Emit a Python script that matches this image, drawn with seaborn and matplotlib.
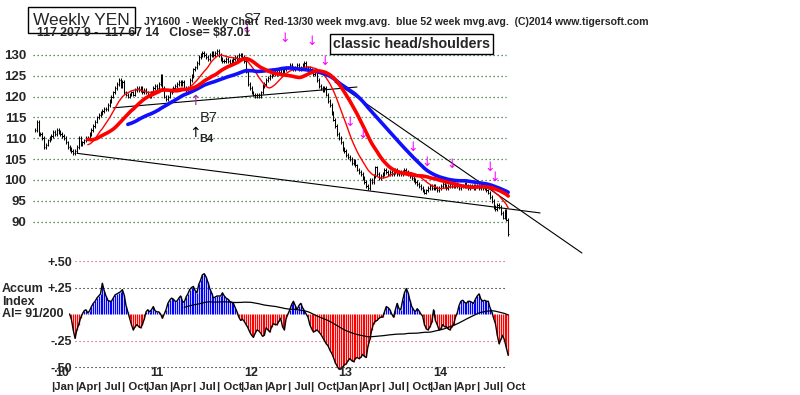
import numpy as np
import pandas as pd
import matplotlib
matplotlib.use("Agg")
import matplotlib.pyplot as plt
import seaborn as sns

# ---------------- data ----------------
# weekly closes (yen futures, JY), week 0 = late Nov 2009 ... week 260 = early Nov 2014
close = [
    112, 114, 111, 111, 110, 108, 108.5, 109.5, 110, 110.5,
    111.5, 111, 112, 111.5, 111, 110.5, 110, 109, 108, 107.5,
    107, 106.5, 107, 108, 110, 108.5, 109, 109.5, 110, 110,
    111, 112, 113, 114, 115, 115.5, 116, 116.5, 117, 117,
    118, 119, 120, 121, 122, 123, 124, 122.5, 123.5, 121,
    120.5, 120, 120.5, 121, 120.5, 121.5, 122, 121.5, 122, 121,
    121.5, 121, 120.5, 120, 121, 122, 122.5, 122, 123, 125,
    122, 120, 119.5, 120, 121, 121.5, 122, 122.5, 123, 123.5,
    123, 123.5, 122, 121, 122, 124, 125, 126.5, 127, 128,
    129.5, 130, 130.5, 130, 129.5, 129, 130, 130.5, 130, 130.5,
    131, 130, 129, 128.5, 128.5, 129, 128.5, 128, 128.5, 129,
    129.5, 129, 130, 130, 129.5, 128.5, 126, 123, 122, 121,
    120.5, 120, 120.5, 120, 121, 122.5, 123, 124, 124.5, 125,
    125.5, 126, 125.5, 126.5, 126, 126.5, 126, 126.5, 127, 127,
    127.5, 127, 126.5, 127, 127.5, 126.5, 127, 127.5, 128, 127,
    127, 126.5, 126, 125.5, 126, 124, 122.5, 122, 121.5, 122,
    120.5, 119, 118, 116, 114.5, 113, 111, 110, 109, 107.5,
    107, 106, 105.5, 105, 104, 104.5, 103.5, 102.5, 102, 101.5,
    100.5, 99.5, 98.5, 98, 100, 99.5, 101, 103, 101.5, 100.5,
    101, 101.5, 102.5, 102, 101.5, 102, 101.5, 102, 102.5, 101.5,
    102, 101.5, 102, 102.5, 102, 101.5, 101, 100.5, 100, 99.5,
    99, 98.5, 98, 97.5, 97, 97.5, 98, 98.5, 98, 98.5,
    98, 97.5, 98, 98.5, 99, 98.5, 98, 98.5, 99, 98.5,
    98.5, 99, 98.5, 98, 98.5, 98.5, 99, 98.5, 98, 98.5,
    98.5, 98, 98.5, 98.5, 98, 98.5, 98, 98, 97.5, 97,
    96, 95, 93.5, 93, 94, 93.5, 92, 91, 92.5, 90.5,
    87.01,
]

# Accumulation Index, weekly, starting at week 19
ai_start_week = 19
accum_index = [
    0.0, -0.05, -0.15, -0.23, -0.15, -0.1, -0.04, 0.0, 0.03, 0.04,
    0.01, 0.03, 0.07, 0.1, 0.12, 0.15, 0.17, 0.19, 0.29, 0.22,
    0.17, 0.13, 0.12, 0.12, 0.15, 0.18, 0.19, 0.2, 0.21, 0.23,
    0.18, 0.08, 0.02, -0.04, -0.1, -0.15, -0.12, -0.1, -0.12, -0.13,
    -0.1, -0.05, 0.02, 0.04, 0.02, 0.04, 0.07, 0.03, 0.02, 0.02,
    0.0, -0.04, 0.0, 0.04, 0.1, 0.13, 0.15, 0.14, 0.12, 0.12,
    0.15, 0.17, 0.12, 0.11, 0.16, 0.19, 0.23, 0.25, 0.26, 0.22,
    0.2, 0.28, 0.32, 0.37, 0.38, 0.35, 0.3, 0.24, 0.2, 0.15,
    0.16, 0.17, 0.17, 0.17, 0.2, 0.17, 0.15, 0.14, 0.12, 0.11,
    0.1, 0.06, 0.02, -0.03, -0.06, -0.05, -0.07, -0.1, -0.13, -0.17,
    -0.2, -0.22, -0.18, -0.15, -0.16, -0.18, -0.21, -0.2, -0.13, -0.15,
    -0.17, -0.12, -0.09, -0.1, -0.1, -0.07, -0.04, -0.12, -0.15, -0.04,
    0.0, 0.04, 0.09, 0.12, 0.08, 0.04, 0.08, 0.1, 0.06, 0.03,
    0.0, -0.03, -0.1, -0.14, -0.17, -0.16, -0.15, -0.17, -0.19, -0.22,
    -0.25, -0.28, -0.3, -0.34, -0.37, -0.41, -0.46, -0.49, -0.52, -0.52,
    -0.5, -0.48, -0.47, -0.44, -0.42, -0.44, -0.45, -0.42, -0.41, -0.42,
    -0.41, -0.38, -0.4, -0.41, -0.3, -0.24, -0.15, -0.09, -0.07, -0.06,
    -0.04, -0.03, -0.03, 0.02, 0.07, 0.06, 0.04, 0.0, -0.03, 0.04,
    0.1, 0.05, 0.04, 0.13, 0.2, 0.24, 0.2, 0.13, 0.07, 0.04,
    0.02, 0.05, 0.03, 0.0, -0.02, -0.1, -0.14, -0.15, -0.12, -0.08,
    0.04, -0.06, -0.1, -0.15, -0.14, -0.1, -0.12, -0.12, -0.14, -0.15,
    -0.12, -0.1, -0.03, 0.01, 0.08, 0.12, 0.13, 0.11, 0.1, 0.12,
    0.12, 0.11, 0.1, 0.14, 0.17, 0.19, 0.14, 0.12, 0.13, 0.12,
    0.12, 0.06, 0.02, -0.04, -0.09, -0.2, -0.28, -0.24, -0.2, -0.25,
    -0.32, -0.39,
]

price_ticks = [130, 125, 120, 115, 110, 105, 100, 95, 90]
ai_ticks = [0.50, 0.25, -0.25, -0.50]
ai_tick_labels = ["+.50", "+.25", "-.25", "-.50"]
quarter_labels = ["|Jan", "|Apr", "| Jul", "| Oct"] * 5
year_labels = ["10", "11", "12", "13", "14"]

# trend lines (week, price) end points
support_line = ([23.1, 277.5], [106.4, 92.1])
neck_line = ([42.9, 176.9], [117.3, 122.3])
down_line = ([164.8, 300.5], [123.5, 82.5])

# sell arrows (week, price)
sell_arrows = [(116.5, 136.2), (137.4, 134.0), (152.2, 133.1), (159.3, 128.3),
               (173.0, 113.7), (180.2, 110.8), (207.7, 107.9), (215.4, 104.3),
               (229.1, 103.6), (250.0, 102.9), (252.7, 100.5)]

# ---------------- frame ----------------
weeks = np.arange(len(close))
df = pd.DataFrame({"week": weeks, "close": close})
df["ma13"] = df["close"].rolling(13).mean()
df["ma30"] = df["close"].rolling(30).mean()
df["ma52"] = df["close"].rolling(52).mean()

ai_df = pd.DataFrame({"week": np.arange(ai_start_week, ai_start_week + len(accum_index)),
                      "ai": accum_index})
ai_df["ai_ma"] = ai_df["ai"].rolling(60, min_periods=52).mean()

sns.set_style("white")
plt.rcParams["font.family"] = ["Liberation Sans", "DejaVu Sans"]

W, H = 800, 395
fig = plt.figure(figsize=(8, 3.95), dpi=100)
fig.patch.set_facecolor("white")

PX0, PXW = 35.0, 1.82  # pixel of week 0, pixels per week
xlim = ((33 - PX0) / PXW, (600 - PX0) / PXW)

def price_of(py):
    return 90 + (221.7 - py) / 4.17

# price axes: pixel rows 40..258
ax = fig.add_axes([33 / W, (H - 258) / H, 567 / W, 218 / H])
ax.set_xlim(*xlim)
ax.set_ylim(price_of(258), price_of(40))
ax.patch.set_alpha(0)
for s in ax.spines.values():
    s.set_visible(False)

ax.hlines(price_ticks, -1, 259, colors="#2e6b2e", linestyles=(0, (1, 2.2)), lw=0.9)

# price bars
prev = np.r_[close[0], close[:-1]]
lo = np.minimum(prev, close) - 0.45
hi = np.maximum(prev, close) + 0.45
ax.vlines(weeks, lo, hi, colors="black", lw=0.75)
ax.hlines(close, weeks, weeks + 0.7, colors="black", lw=0.75)

# trend lines
for xs, ys in (support_line, neck_line, down_line):
    ax.plot(xs, ys, color="black", lw=0.8)

# moving averages
sns.lineplot(data=df[df.week >= 29], x="week", y="ma13", ax=ax, color="#ff0000", lw=1.0)
sns.lineplot(data=df[df.week >= 51], x="week", y="ma52", ax=ax, color="#1010ff", lw=2.6)
sns.lineplot(data=df[df.week >= 29], x="week", y="ma30", ax=ax, color="#ff0000", lw=2.6)

ax.set_yticks(price_ticks)
ax.set_yticklabels([str(t) for t in price_ticks], fontsize=9.5, fontweight="bold")
ax.tick_params(axis="y", length=0, pad=5)
ax.set_xticks([])
ax.set_xlabel("")
ax.set_ylabel("")

for wx, py in sell_arrows:
    ax.text(wx, py, "\u2193", color="#ff00ff", fontsize=9, ha="center", va="center",
            family="DejaVu Sans", clip_on=False, zorder=6)

ax.text(87.9, 118.9, "\u2191", color="#993399", fontsize=10, ha="center", va="center",
        family="DejaVu Sans", zorder=6)
ax.text(87.9, 111.3, "\u2191", color="black", fontsize=10, ha="center", va="center",
        family="DejaVu Sans", zorder=6)
ax.text(90.5, 114.9, "B7", fontsize=10.5, ha="left", va="center")
ax.text(90.5, 109.8, "B4", fontsize=8, fontweight="bold", ha="left", va="center")

# AI axes: pixel rows 250..372
ai_top, ai_bot = (314 - 250) / 106, (314 - 372) / 106
ax2 = fig.add_axes([33 / W, (H - 372) / H, 567 / W, 122 / H])
ax2.set_xlim(*xlim)
ax2.set_ylim(ai_bot, ai_top)
ax2.patch.set_alpha(0)
for s in ax2.spines.values():
    s.set_visible(False)

ai_x0 = ai_start_week - 0.3
for v, c in zip(ai_ticks, ["#cc4466", "black", "#cc4466", "black"]):
    ax2.hlines(v, ai_x0 + 3.5, 259, colors=c, linestyles=(0, (1, 2.6)), lw=0.8)

ai_vals = np.array(accum_index)
bar_colors = np.where(ai_vals >= 0, "#0000ff", "#ff0000")
ax2.vlines(ai_df["week"], 0, ai_vals, colors=bar_colors, lw=0.9)
sns.lineplot(data=ai_df, x="week", y="ai", ax=ax2, color="black", lw=1.0)
sns.lineplot(data=ai_df[ai_df.week >= 82].dropna(), x="week", y="ai_ma", ax=ax2,
             color="black", lw=0.9)

ax2.set_yticks(ai_ticks)
ax2.set_yticklabels(ai_tick_labels, fontsize=9, fontweight="bold")
ax2.tick_params(axis="y", length=0, pad=-28)
for lab in ax2.get_yticklabels():
    lab.set_horizontalalignment("right")
ax2.set_xlabel("")
ax2.set_ylabel("")

q0 = (51 - PX0) / PXW
q_step = 23.65 / PXW
qpos = [q0 + k * q_step for k in range(len(quarter_labels))]
ax2.set_xticks(qpos)
ax2.set_xticklabels(quarter_labels, fontsize=8.2, fontweight="bold", ha="left")
ax2.tick_params(axis="x", length=0, pad=7)
for k, yl in enumerate(year_labels):
    ax2.text(q0 + 4 * k * q_step + 6.0, -0.56, yl, fontsize=9, fontweight="bold",
             ha="center", va="center", clip_on=False)

# ---------------- header texts ----------------
def ftext(px, py, s, **kw):
    fig.text(px / W, 1 - py / H, s, **kw)

ftext(33, 20, "Weekly YEN", fontsize=12.5, ha="left", va="center",
      bbox=dict(boxstyle="square,pad=0.3", fc="white", ec="black", lw=1))
ftext(144, 22, "JY1600  - Weekly Chart  Red-13/30 week mvg.avg.  blue 52 week mvg.avg.  (C)2014 www.tigersoft.com",
      fontsize=7.6, fontweight="bold", ha="left", va="center")
ftext(37, 33, "117 207 9 -  117 67 14   Close= $87.01", fontsize=8.8, fontweight="bold",
      ha="left", va="center")
ftext(252, 19, "S7", fontsize=10.5, color="#222222", ha="center", va="center")
ftext(333, 44, "classic head/shoulders", fontsize=10.3, fontweight="bold", ha="left", va="center",
      bbox=dict(boxstyle="square,pad=0.2", fc="white", ec="black", lw=1))
ftext(2, 289, "Accum", fontsize=9, fontweight="bold", ha="left", va="center")
ftext(2, 302, "Index", fontsize=9, fontweight="bold", ha="left", va="center")
ftext(2, 314, "AI= 91/200", fontsize=9, fontweight="bold", ha="left", va="center")

fig.savefig("out.png", dpi=100, facecolor="white")
